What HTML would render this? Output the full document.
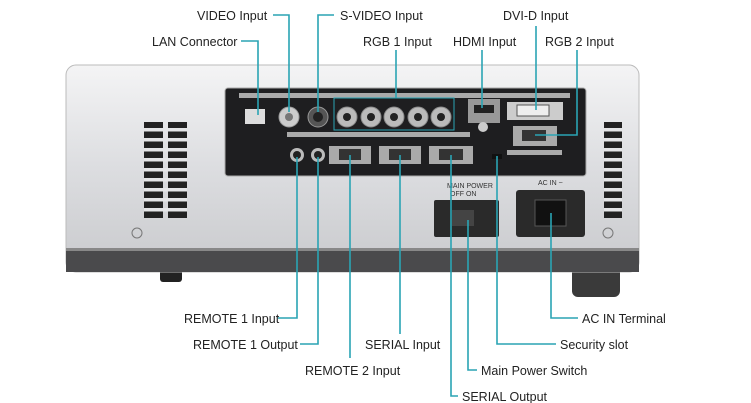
<!DOCTYPE html>
<html><head><meta charset="utf-8"><style>
html,body{margin:0;padding:0;background:#fff;width:751px;height:403px;overflow:hidden}
text{font-family:"Liberation Sans",sans-serif;font-size:12.5px;fill:#222}
</style></head><body>
<svg width="751" height="403" viewBox="0 0 751 403" xmlns="http://www.w3.org/2000/svg">
<defs>
<linearGradient id="body" x1="0" y1="0" x2="0" y2="1">
<stop offset="0" stop-color="#f4f4f5"/><stop offset="0.5" stop-color="#dcdde0"/><stop offset="1" stop-color="#c9cacd"/>
</linearGradient>
</defs>
<!-- feet -->
<rect x="160" y="266" width="22" height="16" rx="3" fill="#222"/>
<rect x="572" y="266" width="48" height="31" rx="6" fill="#3a3a3a"/>
<!-- body -->
<rect x="66" y="65" width="573" height="207" rx="10" fill="url(#body)" stroke="#bbb"/>
<rect x="66" y="250" width="573" height="22" fill="#4a4a4c"/>
<rect x="66" y="248" width="573" height="3" fill="#888"/>
<!-- vents -->
<g fill="#222">
<rect x="144" y="122" width="19" height="96"/><rect x="168" y="122" width="19" height="96"/>
<rect x="604" y="122" width="18" height="96"/>
</g>
<g fill="#e4e5e7">
<rect x="144" y="128" width="43" height="3.5"/><rect x="144" y="138" width="43" height="3.5"/><rect x="144" y="148" width="43" height="3.5"/><rect x="144" y="158" width="43" height="3.5"/><rect x="144" y="168" width="43" height="3.5"/><rect x="144" y="178" width="43" height="3.5"/><rect x="144" y="188" width="43" height="3.5"/><rect x="144" y="198" width="43" height="3.5"/><rect x="144" y="208" width="43" height="3.5"/>
<rect x="604" y="128" width="18" height="3.5"/><rect x="604" y="138" width="18" height="3.5"/><rect x="604" y="148" width="18" height="3.5"/><rect x="604" y="158" width="18" height="3.5"/><rect x="604" y="168" width="18" height="3.5"/><rect x="604" y="178" width="18" height="3.5"/><rect x="604" y="188" width="18" height="3.5"/><rect x="604" y="198" width="18" height="3.5"/><rect x="604" y="208" width="18" height="3.5"/>
</g>
<circle cx="137" cy="233" r="5" fill="none" stroke="#777"/>
<circle cx="608" cy="233" r="5" fill="none" stroke="#777"/>
<!-- panel -->
<rect x="225" y="88" width="361" height="88" rx="3" fill="#1e1e20" stroke="#aaa"/>
<rect x="239" y="93" width="331" height="5" fill="#aaa"/>
<rect x="287" y="132" width="183" height="5" fill="#aaa"/>
<rect x="507" y="150" width="55" height="5" fill="#aaa"/>
<!-- LAN -->
<rect x="245" y="109" width="20" height="15" fill="#ddd"/>
<!-- video / svideo -->
<circle cx="289" cy="117" r="10" fill="#ccc" stroke="#999"/><circle cx="289" cy="117" r="4" fill="#777"/>
<circle cx="318" cy="117" r="10" fill="#555" stroke="#999"/><circle cx="318" cy="117" r="5" fill="#222"/>
<!-- RGB1 -->
<rect x="334" y="98" width="120" height="32" fill="none" stroke="#2aa4b4"/>
<g fill="#bbb" stroke="#888"><circle cx="347" cy="117" r="10"/><circle cx="371" cy="117" r="10"/><circle cx="394" cy="117" r="10"/><circle cx="418" cy="117" r="10"/><circle cx="441" cy="117" r="10"/></g>
<g fill="#222"><circle cx="347" cy="117" r="4"/><circle cx="371" cy="117" r="4"/><circle cx="394" cy="117" r="4"/><circle cx="418" cy="117" r="4"/><circle cx="441" cy="117" r="4"/></g>
<!-- HDMI -->
<rect x="468" y="99" width="32" height="24" fill="#999"/><rect x="474" y="105" width="20" height="8" fill="#222"/>
<circle cx="483" cy="127" r="5" fill="#ccc"/>
<!-- DVI -->
<rect x="507" y="102" width="56" height="18" fill="#ccc"/><rect x="517" y="105" width="32" height="11" fill="#eee" stroke="#555"/>
<rect x="513" y="126" width="44" height="20" fill="#aaa"/><rect x="522" y="130" width="24" height="11" fill="#333"/>
<!-- remote/serial -->
<circle cx="297" cy="155" r="7" fill="#bbb"/><circle cx="297" cy="155" r="4" fill="#222"/>
<circle cx="318" cy="155" r="7" fill="#bbb"/><circle cx="318" cy="155" r="4" fill="#222"/>
<rect x="329" y="146" width="42" height="18" fill="#aaa"/><rect x="339" y="149" width="22" height="11" fill="#333"/>
<rect x="379" y="146" width="42" height="18" fill="#aaa"/><rect x="389" y="149" width="22" height="11" fill="#333"/>
<rect x="429" y="146" width="44" height="18" fill="#aaa"/><rect x="439" y="149" width="24" height="11" fill="#333"/>
<rect x="492" y="154" width="10" height="5" fill="#111"/>
<!-- power switch -->
<text x="447" y="188" style="font-size:7px;fill:#333">MAIN POWER</text>
<text x="450" y="196" style="font-size:7px;fill:#333">OFF    ON</text>
<rect x="434" y="200" width="65" height="37" rx="2" fill="#2a2a2a"/>
<rect x="452" y="210" width="22" height="16" fill="#444"/>
<!-- AC -->
<text x="538" y="185" style="font-size:7px;fill:#333">AC IN ~</text>
<rect x="516" y="190" width="69" height="47" rx="3" fill="#2a2a2a"/>
<rect x="535" y="200" width="31" height="26" fill="#111" stroke="#555"/>
<!-- connectors -->
<g fill="none" stroke="#2aa4b4" stroke-width="1.6">
<polyline points="241,41 258,41 258,115"/>
<polyline points="273,15 289,15 289,112"/>
<polyline points="334,15 318,15 318,112"/>
<polyline points="396,50 396,98"/>
<polyline points="482,50 482,108"/>
<polyline points="536,26 536,110"/>
<polyline points="577,50 577,135 535,135"/>
<polyline points="278,318 297,318 297,157"/>
<polyline points="300,344 318,344 318,157"/>
<polyline points="350,358 350,155"/>
<polyline points="400,334 400,155"/>
<polyline points="458,396 451,396 451,155"/>
<polyline points="477,370 468,370 468,220"/>
<polyline points="556,344 497,344 497,156"/>
<polyline points="578,318 551,318 551,213"/>
</g>
<!-- labels -->
<text x="197" y="20">VIDEO Input</text>
<text x="340" y="20">S-VIDEO Input</text>
<text x="503" y="20">DVI-D Input</text>
<text x="152" y="46">LAN Connector</text>
<text x="363" y="46">RGB 1 Input</text>
<text x="453" y="46">HDMI Input</text>
<text x="545" y="46">RGB 2 Input</text>
<text x="184" y="323">REMOTE 1 Input</text>
<text x="193" y="349">REMOTE 1 Output</text>
<text x="305" y="375">REMOTE 2 Input</text>
<text x="365" y="349">SERIAL Input</text>
<text x="462" y="401">SERIAL Output</text>
<text x="481" y="375">Main Power Switch</text>
<text x="560" y="349">Security slot</text>
<text x="582" y="323">AC IN Terminal</text>
</svg>
</body></html>
